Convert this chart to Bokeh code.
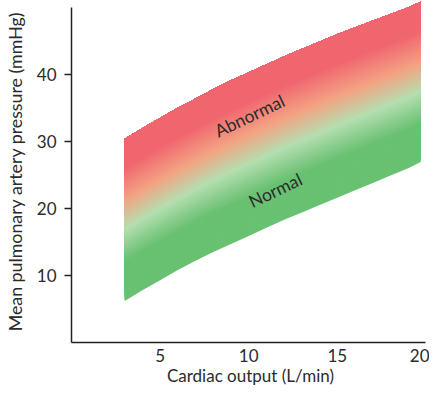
import numpy as np
from bokeh.plotting import figure
from bokeh.models import Range1d, FixedTicker
from bokeh.core.properties import value
from bokeh.embed import file_html
from bokeh.resources import INLINE

# ---- data ----
cardiac_output = [3, 4, 5, 6, 7, 8, 9, 10, 11, 12, 13, 14, 15, 16, 17, 18, 19, 19.7]
upper_pressure = [30.4, 32.0, 33.5, 35.0, 36.4, 37.8, 39.1, 40.3, 41.5, 42.7,
                  43.8, 44.9, 46.0, 47.0, 48.0, 49.0, 50.0, 50.8]
lower_pressure = [6.2, 7.8, 9.3, 10.8, 12.2, 13.5, 14.7, 15.9, 17.1, 18.3,
                  19.4, 20.5, 21.6, 22.7, 23.8, 24.9, 26.0, 26.9]

gradient_pos = [0.0, 0.24, 0.44, 0.62, 0.82, 1.0]
gradient_colors = ["#69C172", "#69C172", "#B5DEB0", "#F3A383", "#F0666F", "#F0666F"]

x_ticks = [5, 10, 15, 20]
y_ticks = [10, 20, 30, 40]

label_text = ["Abnormal", "Normal"]
label_x = [10.05, 11.5]
label_y = [33.8, 22.7]

FONT = "Lato"
TEXT_COLOR = "#2b2b2b"


def hex_to_rgb(h):
    h = h.lstrip("#")
    return np.array([int(h[i:i + 2], 16) for i in (0, 2, 4)], dtype=float)


def color_at(t):
    rgbs = [hex_to_rgb(c) for c in gradient_colors]
    r = np.interp(t, gradient_pos, [c[0] for c in rgbs])
    g = np.interp(t, gradient_pos, [c[1] for c in rgbs])
    b = np.interp(t, gradient_pos, [c[2] for c in rgbs])
    return "#%02x%02x%02x" % (int(round(r)), int(round(g)), int(round(b)))


p = figure(width=429, height=388, output_backend="svg", toolbar_location=None,
           x_range=Range1d(0, 20.2), y_range=Range1d(0, 51.0),
           min_border_left=63, min_border_right=0, min_border_top=0,
           min_border_bottom=10)
p.outline_line_color = None
p.xgrid.visible = False
p.ygrid.visible = False

xs = np.array(cardiac_output, dtype=float)
up = np.array(upper_pressure, dtype=float)
lo = np.array(lower_pressure, dtype=float)

N = 140
for i in range(N):
    t0 = i / N
    tm = (i + 0.5) / N
    p.varea(x=xs, y1=lo + (up - lo) * t0, y2=up, fill_color=color_at(tm),
            fill_alpha=1.0)

p.text(x=label_x, y=label_y, text=label_text, angle=0.445,
       text_align="center", text_baseline="middle",
       text_font=value(FONT), text_font_size="17.5px", text_color=TEXT_COLOR)

for ax in (p.xaxis[0], p.yaxis[0]):
    ax.axis_line_color = "#222222"
    ax.axis_line_width = 1.5
    ax.major_tick_line_color = "#222222"
    ax.major_tick_line_width = 1.5
    ax.minor_tick_line_color = None
    ax.major_tick_in = 0
    ax.major_label_text_font = FONT
    ax.major_label_text_font_size = "17px"
    ax.major_label_text_color = TEXT_COLOR
    ax.axis_label_text_font = FONT
    ax.axis_label_text_font_style = "normal"
    ax.axis_label_text_color = TEXT_COLOR

p.xaxis[0].axis_label_text_font_size = "17px"
p.yaxis[0].axis_label_text_font_size = "17.8px"
p.xaxis[0].ticker = FixedTicker(ticks=x_ticks)
p.yaxis[0].ticker = FixedTicker(ticks=y_ticks)
p.xaxis[0].major_tick_out = 0
p.yaxis[0].major_tick_out = 7
p.xaxis[0].bounds = (0, 20)
p.yaxis[0].bounds = (0, 50)
p.xaxis[0].major_label_standoff = 6
p.yaxis[0].major_label_standoff = 8
p.xaxis[0].axis_label_standoff = 0
p.yaxis[0].axis_label_standoff = 8
p.xaxis[0].axis_label = "Cardiac output (L/min)"
p.yaxis[0].axis_label = "Mean pulmonary artery pressure (mmHg)"

open("out.html", "w").write(file_html(p, INLINE))
